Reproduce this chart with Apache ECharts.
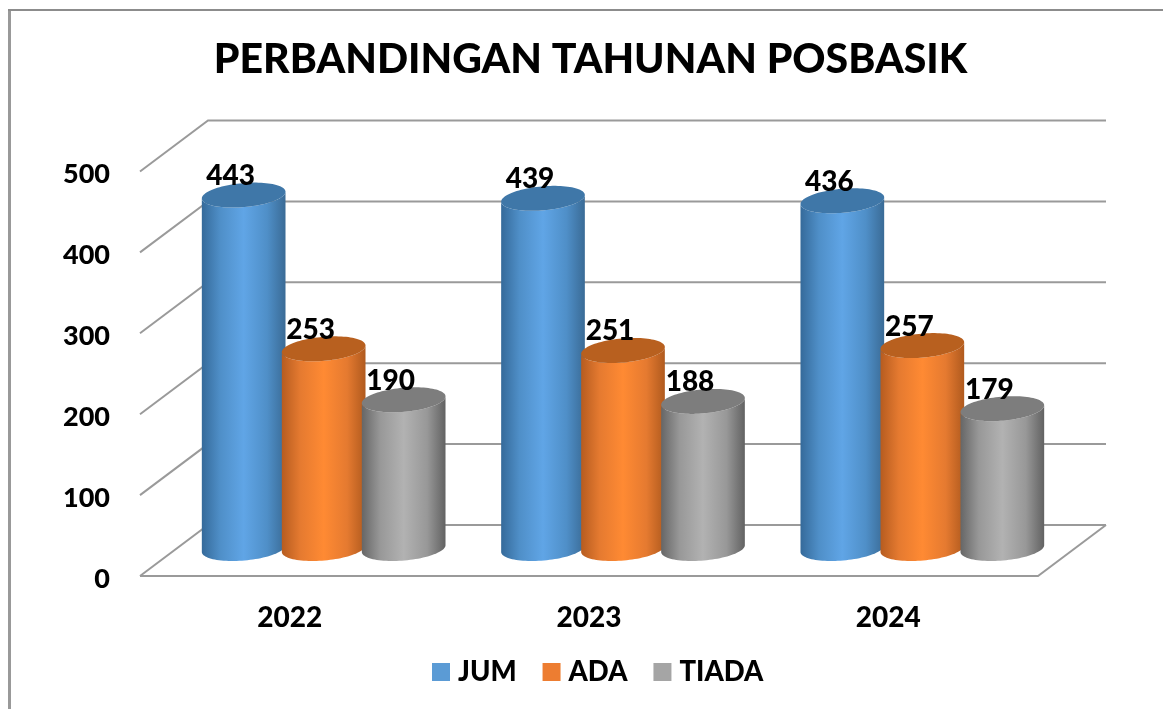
<!DOCTYPE html>
<html><head><meta charset="utf-8">
<style>html,body{margin:0;padding:0;background:#fff}#c{width:1163px;height:709px}</style>
<script src="https://cdn.jsdelivr.net/npm/echarts@6/dist/echarts.min.js"></script>
</head><body><div id="c"></div>
<script>
const categories = ['2022', '2023', '2024'];
const JUM = [443, 439, 436];
const ADA = [253, 251, 257];
const TIADA = [190, 188, 179];
const tickValues = [0, 100, 200, 300, 400, 500];

const FONT = 'Lato';
const WEIGHT = 900;
const DX = 68, DY = -51;
const A = 42, B = 12, TILT = -5 * Math.PI / 180, STEP = 80, CAP_DROP = 3;

function ellPt(cx, cy, t) {
  const c = Math.cos(t), s = Math.sin(t), cp = Math.cos(TILT), sp = Math.sin(TILT);
  return [cx + A * c * cp - B * s * sp, cy + A * c * sp + B * s * cp];
}
function grad(l, m, r) {
  return { type: 'linear', x: 0, y: 0, x2: 1, y2: 0, colorStops: [
    { offset: 0, color: l }, { offset: 0.22, color: m[0] }, { offset: 0.5, color: m[1] },
    { offset: 0.78, color: m[0] }, { offset: 1, color: r }] };
}
function cylinder(slot, body, cap) {
  return function (params, api) {
    const cat = api.value(0), val = api.value(1);
    const top = api.coord([cat, val]), base = api.coord([cat, 0]);
    const cx = top[0] + DX / 2 + slot * STEP;
    const yt = top[1] + DY / 2 + CAP_DROP, yb = base[1] + DY / 2;
    const pts = [], capPts = [];
    const N = 48;
    for (let i = 0; i <= N; i++) pts.push(ellPt(cx, yb - 2, Math.PI * i / N));
    for (let i = N; i >= 0; i--) pts.push(ellPt(cx, yt, Math.PI * i / N));
    for (let i = 0; i < N * 2; i++) capPts.push(ellPt(cx, yt, Math.PI * i / N));
    return { type: 'group', children: [
      { type: 'polygon', shape: { points: pts }, style: { fill: body } },
      { type: 'polygon', shape: { points: capPts }, style: { fill: cap } },
      { type: 'text', z2: 100, style: { text: String(val), x: cx - 13, y: yt - 19, align: 'center', verticalAlign: 'middle',
        font: WEIGHT + ' 28px ' + FONT, fill: '#000' } }
    ] };
  };
}
function walls(params, api) {
  const v = api.value(0), cs = params.coordSys;
  const y = api.coord([0, v])[1], x0 = cs.x, x1 = cs.x + cs.width;
  const st = { stroke: '#9a9a9a', lineWidth: 2, fill: null };
  const kids = [{ type: 'polyline', shape: { points: [[x0, y], [x0 + DX, y + DY], [x1 + DX, y + DY]] }, style: st }];
  if (v === 0) kids.push({ type: 'polyline', shape: { points: [[x0, y], [x1, y], [x1 + DX, y + DY]] }, style: st });
  return { type: 'group', children: kids };
}
const chart = echarts.init(document.getElementById('c'), null, { renderer: 'canvas' });
function barSeries(name, vals, slot, color, body, cap) {
  return { name, type: 'custom', coordinateSystem: 'cartesian2d', renderItem: cylinder(slot, body, cap),
    itemStyle: { color }, encode: { x: 0, y: 1 }, data: vals.map((v, i) => [i, v]), z: 5 + slot, clip: false };
}
const tickFont = { fontFamily: FONT, fontWeight: WEIGHT, fontSize: 27, color: '#000' };
chart.setOption({
  animation: false,
  backgroundColor: '#fff',
  title: { text: 'PERBANDINGAN TAHUNAN POSBASIK', left: 590.5, top: 39, textAlign: 'center', padding: 0,
    textStyle: { fontFamily: FONT, fontWeight: WEIGHT, fontSize: 41, color: '#000' } },
  legend: { data: ['JUM', 'ADA', 'TIADA'], left: 432, top: 658, padding: 0, icon: 'rect', itemWidth: 18, itemHeight: 18, itemGap: 26,
    textStyle: { fontFamily: FONT, fontWeight: WEIGHT, fontSize: 27.5, color: '#000', padding: [0, 0, 0, 3] } },
  grid: { left: 140, right: 125, top: 171.5, bottom: 133 },
  xAxis: { type: 'category', data: categories, axisLine: { show: false }, axisTick: { show: false },
    axisLabel: { margin: 28, fontFamily: FONT, fontWeight: WEIGHT, fontSize: 28, color: '#000' } },
  yAxis: { type: 'value', min: 0, max: 500, interval: 100, splitLine: { show: false }, axisLine: { show: false }, axisTick: { show: false },
    axisLabel: { margin: 30, ...tickFont, formatter: v => '{a|' + v + '}',
      rich: { a: { ...tickFont, padding: [6, 0, 0, 0] } } } },
  graphic: [
    { type: 'line', shape: { x1: 9.5, y1: 10, x2: 9.5, y2: 709 }, style: { stroke: '#999', lineWidth: 3 }, silent: true },
    { type: 'line', shape: { x1: 8, y1: 10, x2: 1163, y2: 10 }, style: { stroke: '#8c8c8c', lineWidth: 2 }, silent: true }
  ],
  series: [
    { type: 'custom', coordinateSystem: 'cartesian2d', renderItem: walls, data: tickValues.map(v => [v]), encode: { y: 0 }, z: 1, silent: true, clip: false },
    barSeries('JUM', JUM, -1, '#5b9bd5', grad('#356a9a', ['#4f8fc8', '#60a5e6'], '#3a6b96'), '#3f77a8'),
    barSeries('ADA', ADA, 0, '#ed7d31', grad('#b65c20', ['#e57a30', '#ff8a33'], '#b05a1e'), '#b8601f'),
    barSeries('TIADA', TIADA, 1, '#a5a5a5', grad('#666', ['#989898', '#b2b2b2'], '#626262'), '#7d7d7d')
  ]
});
</script></body></html>
